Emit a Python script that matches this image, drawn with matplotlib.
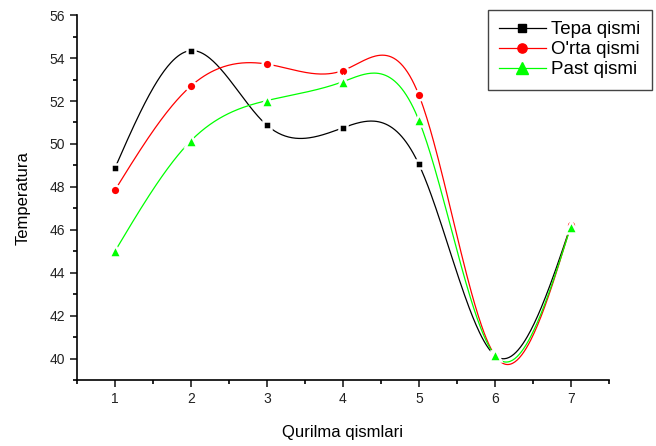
import numpy as np
import matplotlib
matplotlib.use('Agg')
import matplotlib.pyplot as plt
from matplotlib.ticker import MultipleLocator

plt.rcParams['font.family'] = ['Liberation Sans', 'DejaVu Sans']

X_LABEL = "Qurilma qismlari"
Y_LABEL = "Temperatura"

positions = [1, 2, 3, 4, 5, 6, 7]
tepa = [48.88, 54.35, 50.87, 50.75, 49.05, 40.15, 46.2]
orta = [47.85, 52.7, 53.72, 53.42, 52.28, 40.15, 46.2]
past = [45.0, 50.15, 52.02, 52.9, 51.1, 40.15, 46.15]

SERIES = [("Tepa qismi", tepa, 'black', 's', 6),
          ("O'rta qismi", orta, 'red', 'o', 7),
          ("Past qismi", past, '#00ff00', '^', 8.5)]


def natural_spline(x, y, n=400):
    x = np.asarray(x, float)
    y = np.asarray(y, float)
    k = len(x)
    h = np.diff(x)
    A = np.zeros((k, k))
    b = np.zeros(k)
    A[0, 0] = A[-1, -1] = 1
    for i in range(1, k - 1):
        A[i, i - 1] = h[i - 1]
        A[i, i] = 2 * (h[i - 1] + h[i])
        A[i, i + 1] = h[i]
        b[i] = 6 * ((y[i + 1] - y[i]) / h[i] - (y[i] - y[i - 1]) / h[i - 1])
    m = np.linalg.solve(A, b)
    xs = np.linspace(x[0], x[-1], n)
    idx = np.clip(np.searchsorted(x, xs) - 1, 0, k - 2)
    x0, x1 = x[idx], x[idx + 1]
    hh = x1 - x0
    t0, t1 = x1 - xs, xs - x0
    ys = (m[idx] * t0 ** 3 + m[idx + 1] * t1 ** 3) / (6 * hh) \
        + (y[idx] / hh - m[idx] * hh / 6) * t0 \
        + (y[idx + 1] / hh - m[idx + 1] * hh / 6) * t1
    return xs, ys


def main():
    fig = plt.figure(figsize=(6.56, 4.46), dpi=100)
    ax = fig.add_axes([0.1174, 0.148, 0.8106, 0.818])

    for label, values, color, marker, size in SERIES:
        xs, ys = natural_spline(positions, values)
        ax.plot(xs, ys, color=color, lw=0.9, zorder=2)
        ax.plot(positions, values, linestyle='none', marker=marker,
                markersize=size, color=color, markeredgecolor='white',
                markeredgewidth=1.8, zorder=3)
        ax.plot([], [], color=color, lw=0.9, marker=marker,
                markersize=size * 0.95, markeredgecolor=color, label=label)

    ax.set_xlim(0.5, 7.5)
    ax.set_ylim(39, 56)
    ax.xaxis.set_major_locator(MultipleLocator(1))
    ax.xaxis.set_minor_locator(MultipleLocator(0.5))
    ax.yaxis.set_major_locator(MultipleLocator(2))
    ax.yaxis.set_minor_locator(MultipleLocator(1))
    ax.spines['top'].set_visible(False)
    ax.spines['right'].set_visible(False)
    for s in ('left', 'bottom'):
        ax.spines[s].set_linewidth(1.2)
    ax.tick_params(which='major', direction='out', length=5, width=1.2,
                   labelsize=10, colors='#222222')
    ax.tick_params(which='minor', direction='out', length=3, width=1.2)

    ax.set_xlabel(X_LABEL, fontsize=12, labelpad=14)
    ax.set_ylabel(Y_LABEL, fontsize=12, labelpad=14)

    leg = ax.legend(loc='upper right', bbox_to_anchor=(1.081, 1.014),
                    borderaxespad=0, fontsize=13.5, fancybox=False,
                    framealpha=1, edgecolor='#444444', handlelength=2.5,
                    borderpad=0.6, labelspacing=0.15, handletextpad=0.3)
    leg.get_frame().set_linewidth(1.0)

    fig.savefig('out.png', dpi=100)
    plt.close(fig)


if __name__ == '__main__':
    main()
